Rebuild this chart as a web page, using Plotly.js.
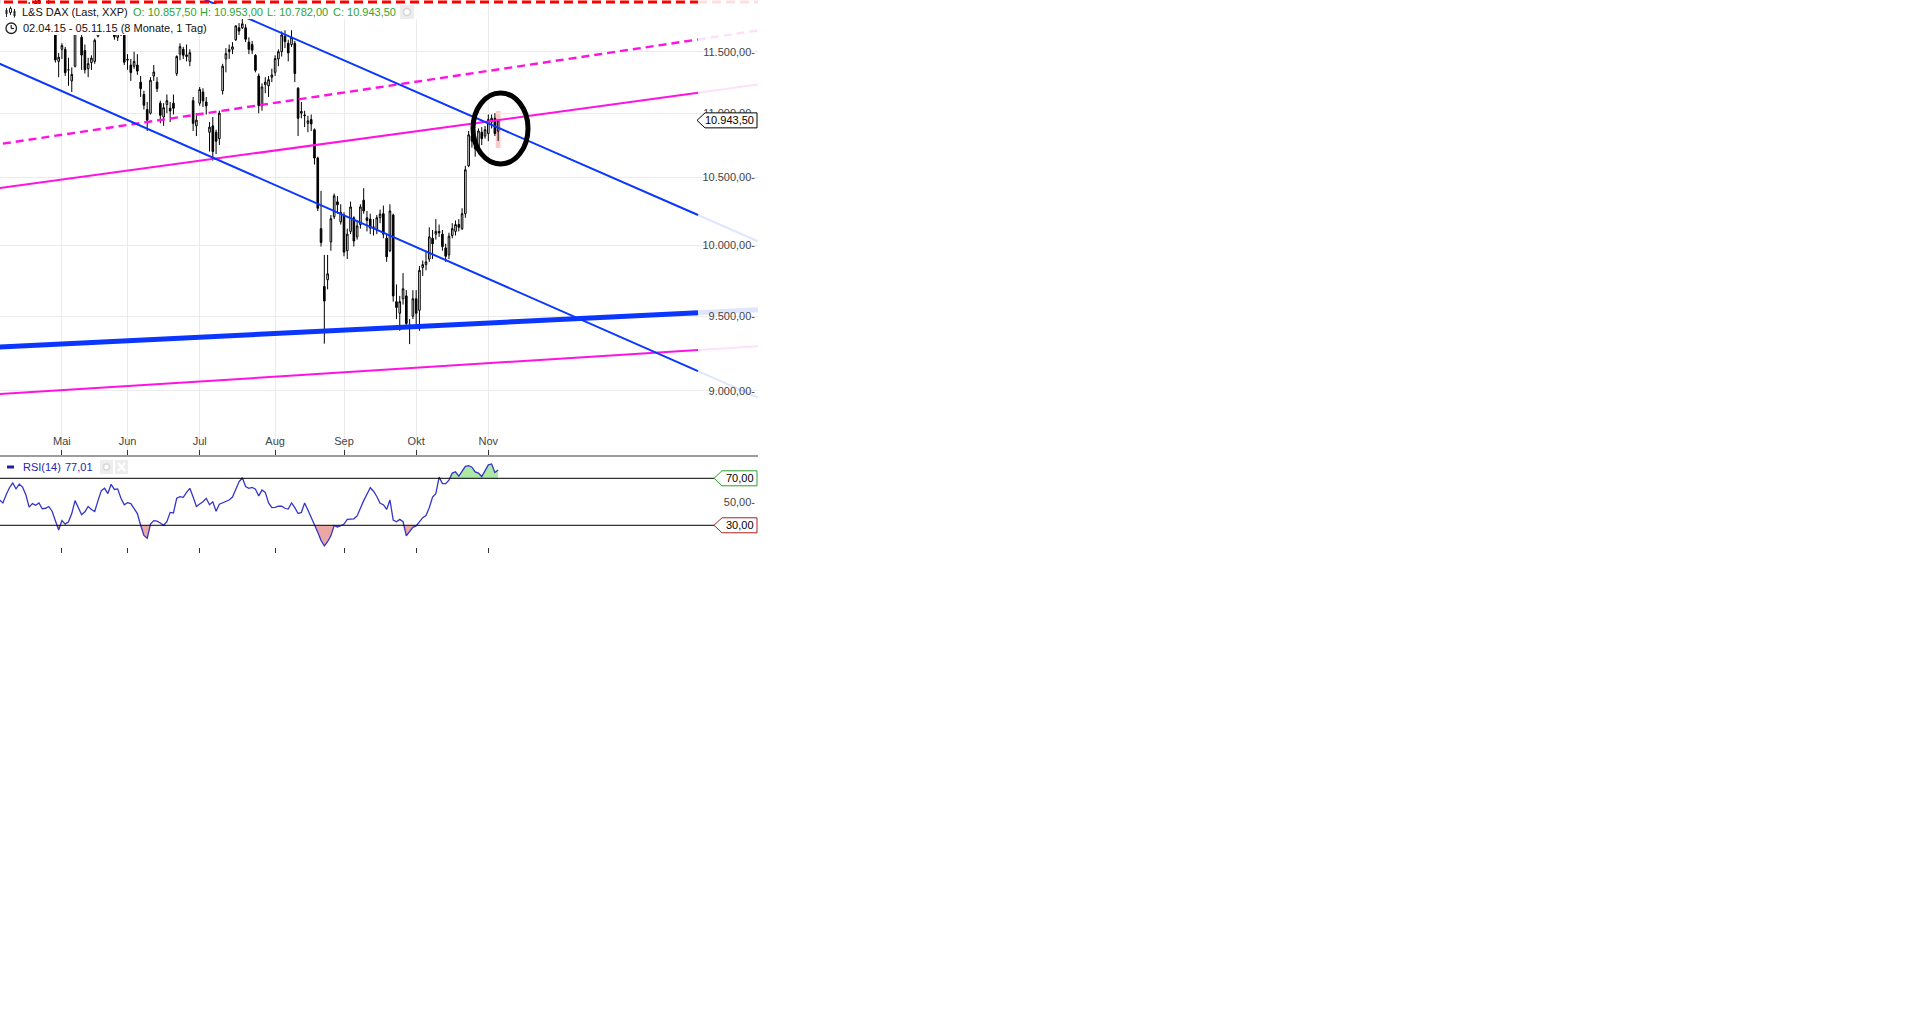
<!DOCTYPE html>
<html><head><meta charset="utf-8">
<script src="https://cdn.plot.ly/plotly-3.0.1.min.js"></script>
<style>html,body{margin:0;padding:0;background:#fff;overflow:hidden}#chart{width:1910px;height:1035px}</style>
</head><body><div id="chart"></div>
<script>
// ---------- DATA (L&S DAX, daily, 02.04.15 - 05.11.15) ----------
const holidays = ['2015-04-03','2015-04-06','2015-05-01'];
const monthNames = ['Jan','Feb','Mär','Apr','Mai','Jun','Jul','Aug','Sep','Okt','Nov','Dez'];

const opens = [
 11990,12070,12110,12080,12200,12370,12320,12230,12200,11900,11780,11920,11870,11890,11760,11880,11780,11700,11420,
 11520,11520,11350,11260,11380,11710,11620,11510,11360,11410,11420,11630,11850,11840,11850,11800,11760,11620,11700,11640,
 11430,11390,11380,11390,11250,11150,11030,11000,11300,11250,11080,10970,11070,11040,11080,11320,11480,11520,11460,11420,11100,10900,
 11080,11170,11090,10850,10900,10850,10800,11180,11440,11500,11520,11600,11700,11700,11700,11580,11560,11470,11300,11060,11230,11220,11290,
 11330,11440,11500,11630,11570,11560,11570,11200,11000,10980,10920,10950,10870,10650,10120,9706,9753,10024,10208,10318,10170,
 10220,9960,10100,10200,10060,10150,10330,10200,10190,10130,10110,10200,10230,10050,9960,10220,9600,9520,9620,9640,9440,9500,
 9620,9540,9840,9860,9900,10050,10080,10100,10080,9980,9930,10070,10100,10150,10120,10230,10590,10820,10760,10700,10850,10820,
 10840,10930,10960,10857.5];
const highs = [
 12045,12185,12125,12210,12390,12400,12340,12280,12210,11920,11880,11980,11960,11900,11840,11950,11830,11710,11490,
 11570,11540,11450,11370,11720,11780,11660,11560,11450,11470,11610,11860,11900,11900,11870,11830,11780,11800,11740,11660,
 11480,11440,11500,11480,11300,11180,11090,11290,11390,11290,11100,11080,11150,11090,11150,11470,11570,11540,11560,11520,11130,11000,
 11210,11200,11130,10930,10970,10870,11020,11400,11530,11560,11580,11720,11740,11800,11730,11620,11590,11480,11320,11240,11290,11300,11360,
 11470,11520,11670,11680,11600,11680,11590,11210,11090,11020,10980,10990,10880,10660,10400,9930,9930,10220,10380,10360,10300,
 10240,10120,10320,10210,10180,10300,10420,10250,10230,10190,10220,10260,10290,10080,10300,10230,9720,9640,9800,9680,9480,9680,
 9680,9850,9890,9960,10130,10110,10190,10150,10110,10010,10090,10160,10180,10190,10270,10590,10860,10850,10800,10880,10890,10900,
 10990,10990,11000,10953];
const lows = [
 11910,12040,11985,12010,12180,12300,12170,12170,11990,11650,11760,11860,11780,11700,11730,11790,11640,11410,11290,
 11440,11300,11220,11170,11370,11640,11350,11320,11290,11350,11400,11620,11790,11780,11780,11700,11600,11590,11630,11390,
 11350,11260,11360,11310,11130,11030,10860,10990,11260,11170,10920,10900,11000,10930,10990,11300,11430,11440,11420,11380,10860,10820,
 11060,11050,10990,10700,10630,10680,10750,11150,11330,11440,11480,11590,11640,11690,11580,11480,11480,11330,11000,11020,11160,11130,11250,
 11300,11380,11460,11530,11420,11540,11250,10820,10960,10890,10850,10860,10600,10250,9990,9313,9686,9960,10190,10230,10150,
 9920,9900,10080,9990,10040,10120,10230,10100,10080,10070,10080,10160,10050,9880,9950,9600,9480,9400,9580,9420,9310,9480,
 9440,9400,9780,9820,9880,9900,10040,10060,9960,9880,9900,10050,10070,10100,10110,10200,10580,10730,10660,10680,10750,10800,
 10780,10880,10820,10782];
const closes = [
 12001,12123,12036,12166,12375,12338,12227,12231,11998,11689,11850,11901,11939,11737,11811,11810,11812,11432,11454,
 11551,11327,11350,11313,11709,11673,11472,11351,11401,11447,11595,11853,11848,11864,11815,11780,11625,11771,11674,11413,
 11436,11328,11420,11340,11197,11064,10945,11265,11333,11197,10984,11044,11100,11018,11040,11460,11542,11471,11473,11492,10920,10945,
 11190,11099,11058,10890,10700,10780,11000,11380,11484,11517,11540,11717,11673,11734,11604,11520,11512,11347,11060,11211,11250,11270,11308,
 11443,11500,11640,11585,11490,11620,11320,10960,11014,10985,10940,10915,10650,10270,10020,9604,9795,10193,10363,10296,10240,
 9950,10080,10280,10030,10140,10280,10250,10180,10124,10131,10200,10227,10080,9916,10250,9640,9560,9600,9690,9450,9430,9620,
 9520,9820,9860,9880,10060,10010,10100,10090,9990,9920,10065,10120,10150,10130,10230,10560,10830,10780,10720,10860,10800,10870,
 10950,10960,10840,10943.5];
const rsi14 = [
 51.6,49,56,62,66,61,65,62.5,56,45.5,48.5,47,49,44,44.5,46,42,34,26,
 34,31,33,40,51,44.5,39,41.5,46,43.5,41.8,51,59.5,61.5,57,64.9,60.5,61,53,47.5,
 49.3,48.5,44.5,40,30,21.3,18.9,31,34,33.5,32,30,33,41,40.5,53,54.4,53.8,58,61.5,54,46,
 48.2,50,53,47.5,50,42,48,49.3,50,51.5,54,60,67,70.5,63,61.5,62.3,60.8,55,60,58,49,45,
 45.2,46.2,46.2,44.5,43.8,49,45,40,41,49,43,37,31,24,17,12.5,16,21,29.8,28.6,29.6,
 31,35,35.5,35.5,38,45,51,56.5,62,59,54.5,
 48.7,47.5,43.5,51.6,34.5,33,35,33,21,24.6,28.3,29.5,33.5,36.5,38.3,45,54,57,71,65.5,65.5,68.5,74.5,75.5,71.8,76,80.2,80.8,79.5,75.5,74.5,71.5,76.3,81.5,82.2,75,77.01];
const rsiLevels = [70, 30];
const priceTicks = [9000, 9500, 10000, 10500, 11000, 11500];
const rsiTicks = [50];

// drawn trend lines: [start index, start price, end index, end price, faded end index, faded end price]
const upperBlue   = [58.05, 11998, 212.93, 10220, 231.22, 10028];
const lowerBlue   = [-2.93, 11435, 212.93, 9130, 231.22, 8958];
const thickBlue   = [-2.93, 9287, 212.93, 9523.5, 231.22, 9543.5];
const magentaUp   = [-2.93, 10411, 212.93, 11164, 231.22, 11231];
const magentaDash = [-2.93, 10746, 212.93, 11602, 231.22, 11678];
const magentaLow  = [-2.93, 8976, 212.93, 9270.5, 231.22, 9296];
const redTop      = [-2.93, 11920, 212.93, 11920, 231.22, 11920];
// marked zone (ellipse) in index / price
const ellipseZone = [144.33, 10604, 161.1, 11162];
const lastBarZone = [151.25, 10727, 152.75, 11018];

// ---------- BUILD ----------
const dates = [];
{ let t = Date.UTC(2015,3,2); const end = Date.UTC(2015,10,5);
  while (t <= end) { const d = new Date(t); const wd = d.getUTCDay(); const s = d.toISOString().slice(0,10);
    if (wd !== 0 && wd !== 6 && !holidays.includes(s)) dates.push(s); t += 86400000; } }
const idx = dates.map((_, k) => k);
const tickIdx = [], tickTxt = [];
dates.forEach((s, k) => { const m = +s.slice(5,7); if (k === 0 || m !== +dates[k-1].slice(5,7)) { tickIdx.push(k); tickTxt.push(monthNames[m-1]); } });

function fmtDE(v){ const s = v.toFixed(2).split('.'); return s[0].replace(/\B(?=(\d{3})+(?!\d))/g,'.') + ',' + s[1]; }
function fmtDate(s){ return s.slice(8,10)+'.'+s.slice(5,7)+'.'+s.slice(2,4); }

const W = 1910, H = 1035;
const px = x => x / W, py = y => 1 - y / H;
const FONT = 'Liberation Sans, Arial, sans-serif';
const BLUE = '#0a36ff', MAG = '#ff12e2';

const traces = [];
traces.push({ type:'candlestick', x: idx, open: opens, high: highs, low: lows, close: closes,
  xaxis:'x', yaxis:'y', whiskerwidth:0, hoverinfo:'skip',
  increasing:{ line:{ color:'#000', width:1 }, fillcolor:'#ffffff' },
  decreasing:{ line:{ color:'#000', width:1 }, fillcolor:'#000000' } });

function addTrend(a, color, width, dash){
  traces.push({ type:'scatter', mode:'lines', x:[a[0], a[2]], y:[a[1], a[3]], xaxis:'x', yaxis:'y',
    line:{ color, width, dash: dash || 'solid' }, hoverinfo:'skip' });
  traces.push({ type:'scatter', mode:'lines', x:[a[2], a[4]], y:[a[3], a[5]], xaxis:'x', yaxis:'y', opacity:0.13,
    line:{ color, width, dash: dash || 'solid' }, hoverinfo:'skip' });
}
addTrend(magentaLow, MAG, 2);
addTrend(magentaUp, MAG, 2);
addTrend(magentaDash, MAG, 2.4, '8px,5px');
addTrend(lowerBlue, BLUE, 2);
addTrend(upperBlue, BLUE, 2);
addTrend(thickBlue, BLUE, 5);
addTrend(redTop, '#ff0000', 3, '9px,5px');

function band(vals, level, below){
  const xs = [], ys = []; let inside = false;
  for (let k = 0; k < vals.length; k++){
    const v = vals[k], isIn = below ? v < level : v > level;
    if (isIn && !inside){ if (k > 0){ const p = vals[k-1]; xs.push(k-1 + (p-level)/(p-v)); } else xs.push(k); ys.push(level); inside = true; }
    if (isIn){ xs.push(k); ys.push(v); }
    else if (inside){ const p = vals[k-1]; xs.push(k-1 + (p-level)/(p-v)); ys.push(level); xs.push(null); ys.push(null); inside = false; }
  }
  if (inside){ xs.push(vals.length-1); ys.push(level); }
  return { xs, ys };
}
const lowBand = band(rsi14, rsiLevels[1], true), highBand = band(rsi14, rsiLevels[0], false);
traces.push({ type:'scatter', mode:'lines', x: lowBand.xs, y: lowBand.ys, xaxis:'x2', yaxis:'y2', fill:'toself',
  fillcolor:'#eba7a3', line:{ width:0 }, hoverinfo:'skip' });
traces.push({ type:'scatter', mode:'lines', x: highBand.xs, y: highBand.ys, xaxis:'x2', yaxis:'y2', fill:'toself',
  fillcolor:'#ace9a3', line:{ width:0 }, hoverinfo:'skip' });
traces.push({ type:'scatter', mode:'lines', x: idx, y: rsi14, xaxis:'x2', yaxis:'y2',
  line:{ color:'#3535c8', width:1.3 }, hoverinfo:'skip' });

const shapes = [
  { type:'rect', xref:'x', yref:'y', x0:lastBarZone[0], x1:lastBarZone[2], y0:lastBarZone[1], y1:lastBarZone[3],
    fillcolor:'rgba(245,140,140,0.45)', line:{ width:0 }, layer:'below' },
  { type:'circle', xref:'x', yref:'y', x0:ellipseZone[0], x1:ellipseZone[2], y0:ellipseZone[1], y1:ellipseZone[3],
    line:{ color:'#000', width:5 } },
  // header backgrounds
  { type:'rect', xref:'paper', yref:'paper', x0:px(0), x1:px(418), y0:py(19), y1:py(4), fillcolor:'#fff', line:{ width:0 } },
  { type:'rect', xref:'paper', yref:'paper', x0:px(0), x1:px(206), y0:py(35), y1:py(19), fillcolor:'#fff', line:{ width:0 } },
  // price label box
  { type:'path', xref:'paper', yref:'y', xsizemode:'pixel', ysizemode:'pixel', xanchor:px(758), yanchor:closes[closes.length-1],
    path:'M-61,0 L-53,7.5 L-1,7.5 L-1,-7.5 L-53,-7.5 Z', fillcolor:'#fff', line:{ color:'#000', width:1 } },
  // RSI levels
  { type:'line', xref:'paper', yref:'y2', x0:0, x1:px(714), y0:rsiLevels[0], y1:rsiLevels[0], line:{ color:'#000', width:1 } },
  { type:'line', xref:'paper', yref:'y2', x0:0, x1:px(714), y0:rsiLevels[1], y1:rsiLevels[1], line:{ color:'#000', width:1 } },
  { type:'path', xref:'paper', yref:'y2', xsizemode:'pixel', ysizemode:'pixel', xanchor:px(758), yanchor:rsiLevels[0],
    path:'M-44,0 L-36,7.5 L-1,7.5 L-1,-7.5 L-36,-7.5 Z', fillcolor:'#fff', line:{ color:'#2aa02a', width:1 } },
  { type:'path', xref:'paper', yref:'y2', xsizemode:'pixel', ysizemode:'pixel', xanchor:px(758), yanchor:rsiLevels[1],
    path:'M-44,0 L-36,7.5 L-1,7.5 L-1,-7.5 L-36,-7.5 Z', fillcolor:'#fff', line:{ color:'#b01e1e', width:1 } },
  // header icons: candles
  { type:'line', xref:'paper', yref:'paper', x0:px(6.5), x1:px(6.5), y0:py(17), y1:py(8), line:{ color:'#222', width:1 } },
  { type:'rect', xref:'paper', yref:'paper', x0:px(5.5), x1:px(7.5), y0:py(14), y1:py(10), fillcolor:'#222', line:{ width:0 } },
  { type:'line', xref:'paper', yref:'paper', x0:px(10.5), x1:px(10.5), y0:py(15), y1:py(6.5), line:{ color:'#222', width:1 } },
  { type:'rect', xref:'paper', yref:'paper', x0:px(9.5), x1:px(11.5), y0:py(12.5), y1:py(8.5), fillcolor:'#fff', line:{ color:'#222', width:1 } },
  { type:'line', xref:'paper', yref:'paper', x0:px(14.5), x1:px(14.5), y0:py(17.5), y1:py(9), line:{ color:'#222', width:1 } },
  { type:'rect', xref:'paper', yref:'paper', x0:px(13.5), x1:px(15.5), y0:py(16), y1:py(11), fillcolor:'#222', line:{ width:0 } },
  // clock icon
  { type:'circle', xref:'paper', yref:'paper', x0:px(6), x1:px(16.5), y0:py(33.5), y1:py(23), line:{ color:'#222', width:1.3 } },
  { type:'line', xref:'paper', yref:'paper', x0:px(11.2), x1:px(11.2), y0:py(28.5), y1:py(25), line:{ color:'#222', width:1.2 } },
  { type:'line', xref:'paper', yref:'paper', x0:px(11.2), x1:px(14), y0:py(28.5), y1:py(28.5), line:{ color:'#222', width:1.2 } },
  // gear icon header
  { type:'rect', xref:'paper', yref:'paper', x0:px(400), x1:px(414), y0:py(19), y1:py(5), fillcolor:'#ececec', line:{ width:0 } },
  { type:'circle', xref:'paper', yref:'paper', x0:px(403.5), x1:px(410.5), y0:py(15.5), y1:py(8.5), fillcolor:'#fff', line:{ color:'#d5d5d5', width:1.5 } },
  // RSI header icons
  { type:'line', xref:'paper', yref:'paper', x0:px(7), x1:px(14), y0:py(467), y1:py(467), line:{ color:'#1e1ea8', width:3 } },
  { type:'rect', xref:'paper', yref:'paper', x0:px(100), x1:px(113), y0:py(474), y1:py(460), fillcolor:'#ededed', line:{ width:0 } },
  { type:'circle', xref:'paper', yref:'paper', x0:px(103.5), x1:px(109.5), y0:py(470), y1:py(464), fillcolor:'#fff', line:{ color:'#d8d8d8', width:1.5 } },
  { type:'rect', xref:'paper', yref:'paper', x0:px(115), x1:px(128), y0:py(474), y1:py(460), fillcolor:'#ededed', line:{ width:0 } },
  { type:'line', xref:'paper', yref:'paper', x0:px(118), x1:px(125), y0:py(463), y1:py(471), line:{ color:'#fff', width:2 } },
  { type:'line', xref:'paper', yref:'paper', x0:px(118), x1:px(125), y0:py(471), y1:py(463), line:{ color:'#fff', width:2 } }
];

const GREEN = '#2ea52e';
const n = closes.length - 1;
function ann(text, x, y, color, extra){ return Object.assign({ text, xref:'paper', yref:'paper', x:px(x), y:py(y),
  xanchor:'left', yanchor:'middle', showarrow:false, font:{ family:FONT, size:11, color }, borderpad:0 }, extra || {}); }
const annotations = [
  ann('L&amp;S DAX (Last, XXP)', 21, 12, '#111'),
  ann('O: ' + fmtDE(opens[n]), 132, 12, GREEN),
  ann('H: ' + fmtDE(highs[n]), 199, 12, GREEN),
  ann('L: ' + fmtDE(lows[n]), 266, 12, GREEN),
  ann('C: ' + fmtDE(closes[n]), 332, 12, GREEN),
  ann(fmtDate(dates[0]) + ' - ' + fmtDate(dates[n]) + ' (8 Monate, 1 Tag)', 22, 28.5, '#111'),
  ann('RSI(14)', 22, 467, '#2626b0'),
  ann(fmtDE(rsi14[n]), 64, 467, '#2626b0'),
  { text: fmtDE(closes[n]), xref:'paper', yref:'y', x:px(755), y:Math.log10(closes[n]), xanchor:'right', yanchor:'middle',
    showarrow:false, font:{ family:FONT, size:11, color:'#000' }, borderpad:0 },
  { text: fmtDE(rsiLevels[0]), xref:'paper', yref:'y2', x:px(755), y:rsiLevels[0], xanchor:'right', yanchor:'middle',
    showarrow:false, font:{ family:FONT, size:11, color:'#000' }, borderpad:0 },
  { text: fmtDE(rsiLevels[1]), xref:'paper', yref:'y2', x:px(755), y:rsiLevels[1], xanchor:'right', yanchor:'middle',
    showarrow:false, font:{ family:FONT, size:11, color:'#000' }, borderpad:0 }
];

const layout = {
  width: W, height: H, margin:{ l:0, r:0, t:0, b:0 }, paper_bgcolor:'#fff', plot_bgcolor:'#fff',
  showlegend:false, hovermode:false, font:{ family:FONT, size:11, color:'#1a1a1a' },
  xaxis:{ domain:[0, px(758)], range:[0.12, 231.22], anchor:'y', tickvals: tickIdx, ticktext: tickTxt,
    ticks:'inside', ticklen:5, tickcolor:'#333', ticklabelposition:'inside', ticklabelstandoff:2,
    showline:true, linecolor:'#9c9c9c', linewidth:1.5, showgrid:true, gridcolor:'#ebebeb', gridwidth:1,
    zeroline:false, rangeslider:{ visible:false }, fixedrange:true },
  yaxis:{ domain:[py(455), 1], type:'log', range:[3.93416, 4.07692], anchor:'x', side:'right',
    tickvals: priceTicks, ticktext: priceTicks.map(v => fmtDE(v) + '-'), ticklabelposition:'inside', ticks:'',
    showgrid:true, gridcolor:'#ebebeb', gridwidth:1, zeroline:false, showline:false, fixedrange:true },
  xaxis2:{ domain:[0, px(758)], matches:'x', anchor:'y2', tickvals: tickIdx, ticks:'inside', ticklen:5, tickcolor:'#333',
    showticklabels:false, showgrid:false, showline:false, zeroline:false },
  yaxis2:{ domain:[py(553), py(456)], range:[6.4, 89], anchor:'x2', side:'right', tickvals: rsiTicks,
    ticktext: rsiTicks.map(v => fmtDE(v) + '-'), ticklabelposition:'inside', ticks:'', showgrid:false,
    zeroline:false, showline:false, fixedrange:true },
  shapes, annotations
};
Plotly.newPlot('chart', traces, layout, { staticPlot:true, displayModeBar:false });
</script>
</body></html>
